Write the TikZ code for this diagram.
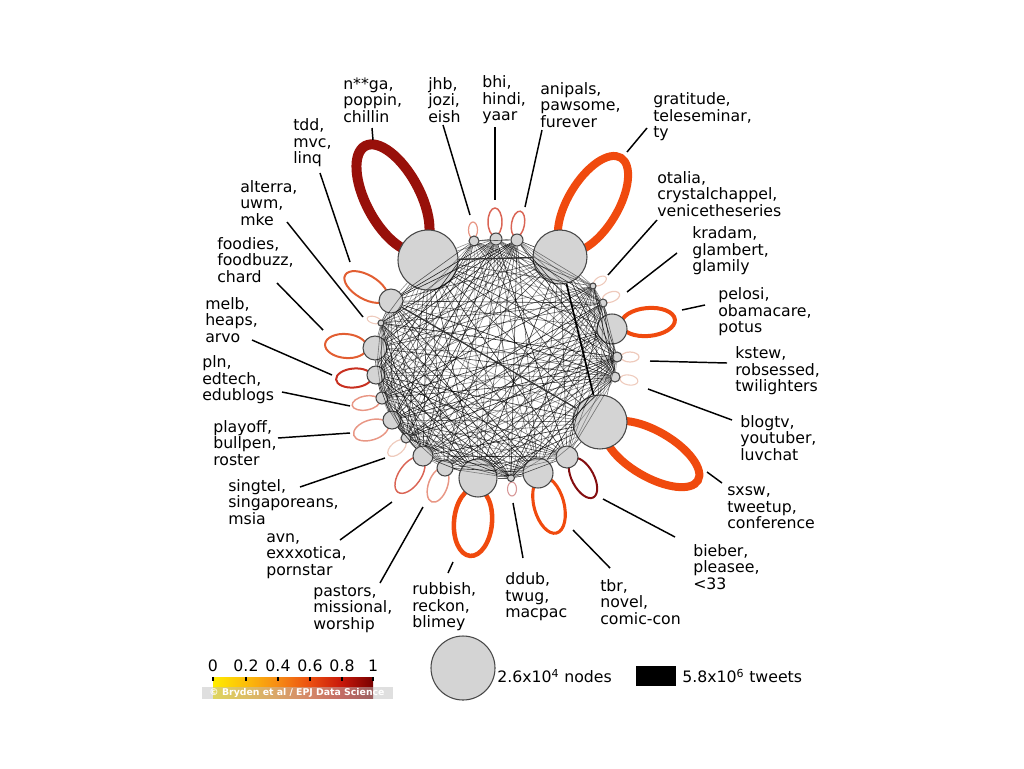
\documentclass[tikz,border=0pt]{standalone}
\usepackage{fontspec}
\setmainfont{DejaVu Sans}
\usepackage{tikz}
\usetikzlibrary{shadings}

\definecolor{darkloop}{RGB}{152,16,10}
\definecolor{hotloop}{RGB}{240,74,14}
\definecolor{redloop}{RGB}{200,48,32}
\definecolor{warmloop}{RGB}{226,94,50}
\definecolor{midloop}{RGB}{218,100,84}
\definecolor{paleloop}{RGB}{232,150,132}
\definecolor{faintloop}{RGB}{238,202,188}
\definecolor{wineloop}{RGB}{132,14,16}
\definecolor{pinkloop}{RGB}{214,150,150}
\definecolor{heat0}{RGB}{255,236,0}
\definecolor{heat1}{RGB}{252,190,10}
\definecolor{heat2}{RGB}{246,140,20}
\definecolor{heat3}{RGB}{236,80,16}
\definecolor{heat4}{RGB}{200,24,10}
\definecolor{heat5}{RGB}{120,0,0}
\pgfdeclarehorizontalshading{heat}{100bp}{color(0bp)=(heat0); color(25bp)=(heat0); color(35bp)=(heat1); color(45bp)=(heat2); color(55bp)=(heat3); color(65bp)=(heat4); color(75bp)=(heat5); color(100bp)=(heat5)}

\begin{document}
\begin{tikzpicture}[x=0.75pt,y=-0.75pt,
    vert/.style={circle,draw=black!72,fill=black!17,line width=0.8pt,inner sep=0pt,minimum size=#1*1.5pt},
    mesh/.style={black,line width=0.45pt},
    tag/.style={anchor=west,align=left,inner sep=0pt,font=\fontsize{11.8}{12.4}\selectfont},
    lead/.style={black,line width=1.1pt}]

\useasboundingbox (0,0) rectangle (1024,768);

    % 绘制自环
\draw[darkloop,line width=7.5pt,rotate around={118:(393,198)}] (393,198) ellipse [x radius=59,y radius=27];
\draw[hotloop,line width=6pt,rotate around={59:(593,204)}] (593,204) ellipse [x radius=54,y radius=25];
\draw[paleloop,line width=0.9pt,rotate around={90:(473,230)}] (473,230) ellipse [x radius=8,y radius=4.5];
\draw[midloop,line width=1.1pt,rotate around={90:(495,222)}] (495,222) ellipse [x radius=14,y radius=7];
\draw[midloop,line width=1.1pt,rotate around={80:(518,224)}] (518,224) ellipse [x radius=13,y radius=6.5];
\draw[faintloop,line width=0.8pt,rotate around={30:(600,281)}] (600,281) ellipse [x radius=7,y radius=4];
\draw[faintloop,line width=0.9pt,rotate around={20:(611,297)}] (611,297) ellipse [x radius=9,y radius=5];
\draw[hotloop,line width=3pt,rotate around={5:(648,322)}] (648,322) ellipse [x radius=27,y radius=14];
\draw[faintloop,line width=0.9pt] (630,357) ellipse [x radius=9,y radius=5];
\draw[faintloop,line width=0.8pt,rotate around={-10:(629,380)}] (629,380) ellipse [x radius=9,y radius=5];
\draw[hotloop,line width=6pt,rotate around={-30:(652,454)}] (652,454) ellipse [x radius=53,y radius=23];
\draw[wineloop,line width=1.5pt,rotate around={-62:(583,478)}] (583,478) ellipse [x radius=22,y radius=11];
\draw[hotloop,line width=2.3pt,rotate around={-75:(549,505)}] (549,505) ellipse [x radius=29,y radius=15];
\draw[pinkloop,line width=0.8pt,rotate around={-90:(512,489)}] (512,489) ellipse [x radius=7,y radius=4.5];
\draw[hotloop,line width=3.4pt,rotate around={-95:(473,522)}] (473,522) ellipse [x radius=34,y radius=19];
\draw[paleloop,line width=1.1pt,rotate around={-110:(438,485)}] (438,485) ellipse [x radius=18,y radius=9.5];
\draw[midloop,line width=1.1pt,rotate around={-125:(410,475)}] (410,475) ellipse [x radius=21,y radius=11];
\draw[faintloop,line width=0.9pt,rotate around={-140:(397,448)}] (397,448) ellipse [x radius=11,y radius=6];
\draw[paleloop,line width=1.1pt,rotate around={-163:(371,430)}] (371,430) ellipse [x radius=18,y radius=10];
\draw[paleloop,line width=1.1pt,rotate around={-170:(366,403)}] (366,403) ellipse [x radius=14,y radius=7];
\draw[redloop,line width=1.5pt,rotate around={-175:(354,378)}] (354,378) ellipse [x radius=18,y radius=9.5];
\draw[warmloop,line width=1.5pt,rotate around={175:(346,346)}] (346,346) ellipse [x radius=21,y radius=12];
\draw[faintloop,line width=0.8pt,rotate around={165:(374,320)}] (374,320) ellipse [x radius=7,y radius=3.5];
\draw[warmloop,line width=1.5pt,rotate around={150:(366,287)}] (366,287) ellipse [x radius=24,y radius=12];

    % 绘制节点
\node[vert=30] (nga) at (428,260) {};
\node[vert=5] (jhb) at (474,241) {};
\node[vert=6] (bhi) at (496,239) {};
\node[vert=6] (anipals) at (517,240) {};
\node[vert=27] (gratitude) at (560,257) {};
\node[vert=3] (otalia) at (593,286) {};
\node[vert=4] (kradam) at (603,303) {};
\node[vert=15] (pelosi) at (612,329) {};
\node[vert=5] (kstew) at (617,357) {};
\node[vert=5] (blogtv) at (615,377) {};
\node[vert=27] (sxsw) at (600,422) {};
\node[vert=11] (bieber) at (567,457) {};
\node[vert=15] (tbr) at (538,473) {};
\node[vert=3.5] (ddub) at (511,478) {};
\node[vert=19] (rubbish) at (478,478) {};
\node[vert=8] (pastors) at (445,468) {};
\node[vert=10] (avn) at (423,456) {};
\node[vert=5] (singtel) at (406,438) {};
\node[vert=9] (playoff) at (392,420) {};
\node[vert=6] (pln) at (382,398) {};
\node[vert=9] (melb) at (376,375) {};
\node[vert=12] (foodies) at (375,348) {};
\node[vert=3] (alterra) at (381,323) {};
\node[vert=12] (tdd) at (391,301) {};

    % 节点之间的连线
\def\vlist{nga,jhb,bhi,anipals,gratitude,otalia,kradam,pelosi,kstew,blogtv,sxsw,bieber,tbr,ddub,rubbish,pastors,avn,singtel,playoff,pln,melb,foodies,alterra,tdd}
\pgfmathsetseed{42}
\foreach \a [count=\i] in \vlist {
  \foreach \b [count=\j] in \vlist {
    \ifnum\j>\i
      \pgfmathsetmacro\op{rnd}
      \ifdim\op pt>0.12pt
        \pgfmathsetmacro\opq{0.3+0.55*\op}
        \draw[mesh,draw opacity=\opq] (\a) -- (\b);
      \fi
    \fi
  }
}
\draw[black!80,line width=1pt] (nga) -- (gratitude);
\draw[black,line width=1.3pt] (gratitude) -- (sxsw);
\draw[black!80,line width=0.9pt] (tdd) -- (sxsw);

    % 标签
\node[tag] (l-nga) at (343,100) {n**ga,\\poppin,\\chillin};
\node[tag] (l-jhb) at (428,100) {jhb,\\jozi,\\eish};
\node[tag] (l-bhi) at (482,100) {bhi,\\hindi,\\yaar};
\node[tag] (l-anipals) at (540,105) {anipals,\\pawsome,\\furever};
\node[tag] (l-gratitude) at (653,117) {gratitude,\\teleseminar,\\ty};
\node[tag] (l-otalia) at (657,194) {otalia,\\crystalchappel,\\venicetheseries};
\node[tag] (l-kradam) at (692,251) {kradam,\\glambert,\\glamily};
\node[tag] (l-pelosi) at (718,312) {pelosi,\\obamacare,\\potus};
\node[tag] (l-kstew) at (735,371) {kstew,\\robsessed,\\twilighters};
\node[tag] (l-blogtv) at (740,438) {blogtv,\\youtuber,\\luvchat};
\node[tag] (l-sxsw) at (727,508) {sxsw,\\tweetup,\\conference};
\node[tag] (l-bieber) at (693,567) {bieber,\\pleasee,\\<33};
\node[tag] (l-tbr) at (600,602) {tbr,\\novel,\\comic-con};
\node[tag] (l-ddub) at (505,597) {ddub,\\twug,\\macpac};
\node[tag] (l-rubbish) at (412,607) {rubbish,\\reckon,\\blimey};
\node[tag] (l-pastors) at (313,609) {pastors,\\missional,\\worship};
\node[tag] (l-avn) at (266,556) {avn,\\exxxotica,\\pornstar};
\node[tag] (l-singtel) at (228,502) {singtel,\\singaporeans,\\msia};
\node[tag] (l-playoff) at (213,443) {playoff,\\bullpen,\\roster};
\node[tag] (l-pln) at (202,380) {pln,\\edtech,\\edublogs};
\node[tag] (l-melb) at (205,320) {melb,\\heaps,\\arvo};
\node[tag] (l-foodies) at (217,260) {foodies,\\foodbuzz,\\chard};
\node[tag] (l-alterra) at (240,203) {alterra,\\uwm,\\mke};
\node[tag] (l-tdd) at (293,143) {tdd,\\mvc,\\linq};

\foreach \nm/\ax/\ay/\bx/\by in {nga/372/128/373/140, jhb/443/125/470/215, bhi/495/127/495/200,
    anipals/542/130/525/207, gratitude/647/128/627/152, otalia/657/220/608/275,
    kradam/677/253/627/292, pelosi/705/305/682/310, kstew/727/363/650/361,
    blogtv/732/420/648/389, sxsw/722/483/707/472, bieber/675/537/603/499,
    tbr/610/568/573/530, ddub/523/558/513/503, rubbish/448/573/453/562,
    pastors/380/583/423/507, avn/340/540/392/502, singtel/300/487/385/458,
    playoff/278/438/350/433, pln/282/392/350/406, melb/252/340/332/375,
    foodies/277/283/323/330, alterra/287/222/363/317, tdd/320/173/350/262}{
  \coordinate (\nm-a) at (\ax,\ay);
  \coordinate (\nm-b) at (\bx,\by);
  \draw[lead] (\nm-a) -- (\nm-b);
}

    % 图例
\shade[shading=heat] (213,677) rectangle (373,698);
\foreach \t/\x in {0/213,0.2/246,0.4/278,0.6/310,0.8/342,1/373}{
  \draw[black,line width=0.8pt] (\x,677) -- (\x,681);
  \node[inner sep=0pt,font=\fontsize{11.8}{12.4}\selectfont] (tick\x) at (\x,666) {\t};
}
\fill[gray!50,opacity=0.5] (202,687) rectangle (393,699);
\node[inner sep=0pt,text=white,font=\bfseries\fontsize{7}{8}\selectfont] (mark) at (297,693) {© Bryden et al / EPJ Data Science};
\node[vert=32] (keynode) at (463,668) {};
\node[tag] (keytxt) at (497,676) {2.6x10\textsuperscript{4} nodes};
\node[fill=black,inner sep=0pt,minimum width=30pt,minimum height=15pt] (keybar) at (656,676) {};
\node[tag] (bartxt) at (682,676) {5.8x10\textsuperscript{6} tweets};
\end{tikzpicture}
\end{document}
